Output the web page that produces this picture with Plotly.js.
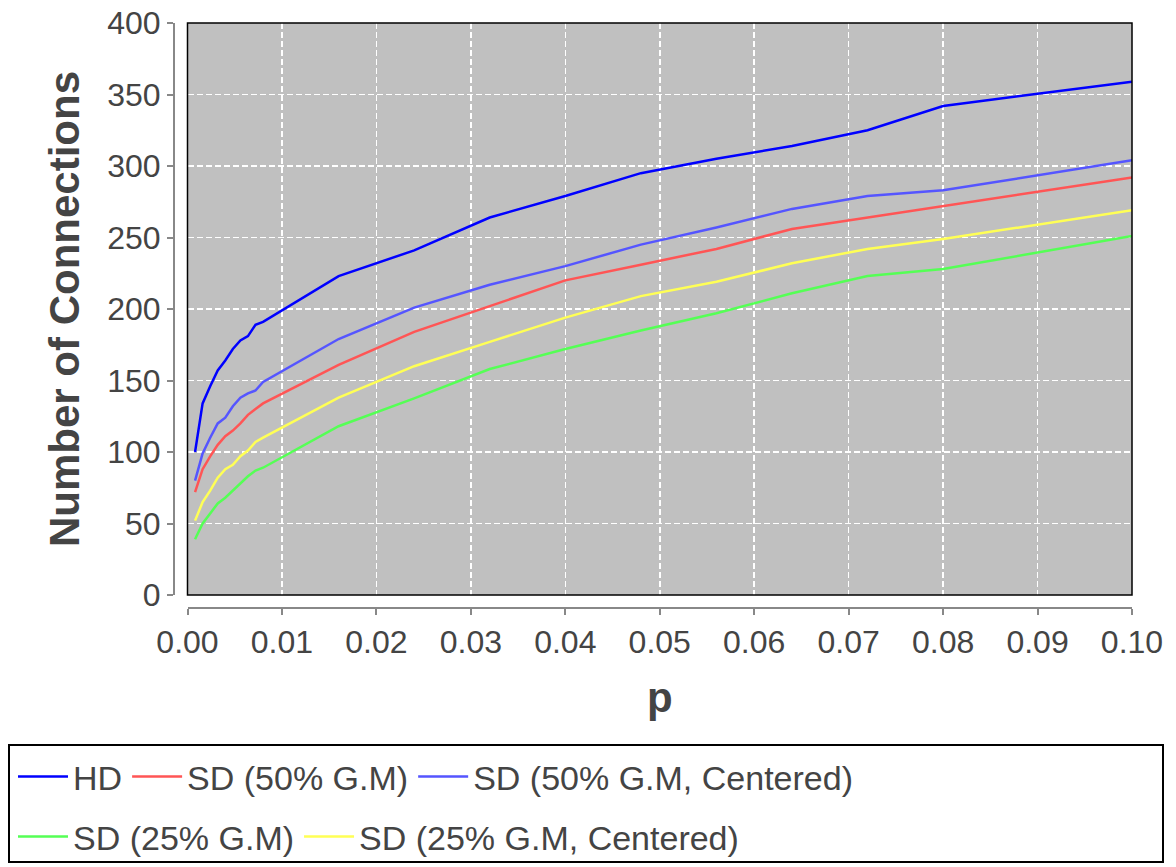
<!DOCTYPE html>
<html>
<head>
<meta charset="utf-8">
<script src="https://cdn.plot.ly/plotly-3.0.1.min.js"></script>
<style>
  html, body { margin: 0; padding: 0; background: #ffffff; }
  #chart { width: 1176px; height: 867px; }
</style>
</head>
<body>
<div id="chart"></div>
<script>
// Connection probability p
const pValues = [0.0008, 0.0016, 0.0024, 0.0032, 0.004, 0.0048, 0.0056, 0.0064, 0.0072, 0.008,
                 0.016, 0.024, 0.032, 0.04, 0.048, 0.056, 0.064, 0.072, 0.08, 0.1];

// Number of connections per scheme
const hd          = [100, 134, 146, 157, 164, 172, 178, 181, 189, 191, 223, 241, 264, 279, 295, 305, 314, 325, 342, 359];
const sd50        = [72, 88, 97, 105, 111, 115, 120, 126, 130, 134, 161, 184, 202, 220, 231, 242, 256, 264, 272, 292];
const sd50Center  = [80, 99, 110, 120, 124, 132, 138, 141, 143, 149, 179, 201, 217, 230, 245, 257, 270, 279, 283, 304];
const sd25        = [39, 50, 57, 64, 68, 73, 78.5, 83, 87, 89, 118, 137.5, 158, 172, 185, 197, 211, 223, 228, 251];
const sd25Center  = [52, 65, 73, 82, 88, 91, 97, 101, 107, 110, 138, 160, 177, 194, 209, 219, 232, 242, 249, 269];

const seriesNames = ['HD', 'SD (50% G.M)', 'SD (50% G.M, Centered)', 'SD (25% G.M)', 'SD (25% G.M, Centered)'];
const seriesColors = ['#0000ff', '#ff5555', '#5555ff', '#55ff55', '#ffff55'];
const seriesData = [hd, sd50, sd50Center, sd25, sd25Center];
const seriesLegend = ['legend', 'legend', 'legend', 'legend2', 'legend2'];

const traces = seriesData.map((vals, i) => ({
  type: 'scatter',
  mode: 'lines',
  x: pValues,
  y: vals,
  name: seriesNames[i],
  legend: seriesLegend[i],
  line: { color: seriesColors[i], width: 2.5 },
  hoverinfo: 'x+y+name'
}));

const W = 1176, H = 867;
const px = v => v / W;          // pixel -> paper x
const py = v => 1 - v / H;      // pixel -> paper y

const FONT = '"Liberation Sans", Arial, Helvetica, sans-serif';
const TXT = '#444444';
const AXIS = '#888888';

const axisCommon = {
  anchor: 'free',
  showline: true,
  linecolor: AXIS,
  linewidth: 2,
  ticks: 'outside',
  ticklen: 6,
  tickwidth: 2,
  tickcolor: AXIS,
  showgrid: true,
  gridcolor: '#ffffff',
  gridwidth: 1.5,
  griddash: '6px,3px',
  zeroline: false,
  automargin: false,
  tickfont: { family: FONT, size: 32, color: TXT }
};

const legendCommon = {
  orientation: 'h',
  xanchor: 'left',
  yanchor: 'middle',
  bgcolor: 'rgba(0,0,0,0)',
  borderwidth: 0,
  itemwidth: 50,
  font: { family: FONT, size: 34, color: TXT }
};

const layout = {
  width: W,
  height: H,
  margin: { l: 0, r: 0, t: 0, b: 0 },
  paper_bgcolor: '#ffffff',
  plot_bgcolor: '#c0c0c0',
  font: { family: FONT, color: TXT },
  xaxis: Object.assign({}, axisCommon, {
    domain: [px(187.5), px(1132)],
    position: py(608),
    range: [0, 0.1],
    tick0: 0,
    dtick: 0.01,
    tickformat: '.2f',
    title: { text: 'p', standoff: 22, font: { family: FONT, size: 42, color: TXT, weight: 'bold' } }
  }),
  yaxis: Object.assign({}, axisCommon, {
    domain: [py(595), py(23)],
    position: px(174),
    range: [0, 400],
    tick0: 0,
    dtick: 50,
    title: { text: 'Number of Connections', font: { family: FONT, size: 42, color: TXT, weight: 'bold' } }
  }),
  showlegend: true,
  legend: Object.assign({}, legendCommon, { x: px(13), y: py(777) }),
  legend2: Object.assign({}, legendCommon, { x: px(13), y: py(837) }),
  shapes: [
    // frame around the plotting area
    { type: 'rect', xref: 'x domain', yref: 'y domain', x0: 0, x1: 1, y0: 0, y1: 1,
      line: { color: '#000000', width: 1.5 }, fillcolor: 'rgba(0,0,0,0)', layer: 'above' },
    // frame around the two legend rows
    { type: 'rect', xref: 'paper', yref: 'paper', x0: px(9), x1: px(1163), y0: py(862), y1: py(745),
      line: { color: '#000000', width: 2 }, fillcolor: 'rgba(0,0,0,0)' }
  ]
};

Plotly.newPlot('chart', traces, layout, { displayModeBar: false, staticPlot: true });
</script>
</body>
</html>
